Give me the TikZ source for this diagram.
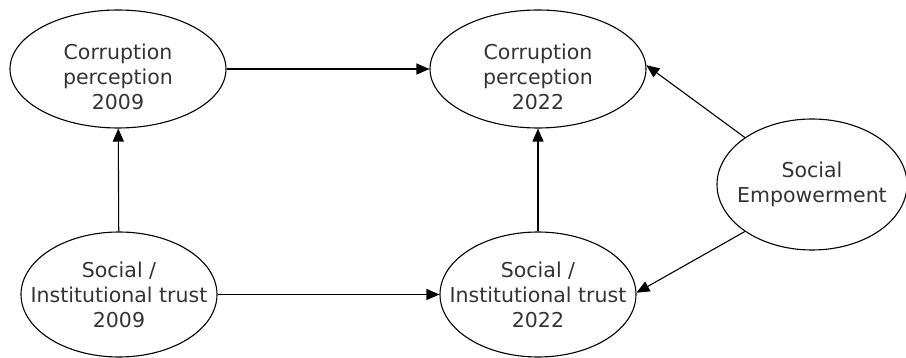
\documentclass[tikz,border=0pt]{standalone}
\usepackage{fontspec}
\setmainfont{DejaVu Sans}
\usetikzlibrary{shapes.geometric,arrows.meta}
\begin{document}
\begin{tikzpicture}[x=1pt,y=-1pt,
  elli/.style={draw=black,line width=1.1pt,ellipse,inner sep=0pt},
  txt/.style={align=center,text=black!80,font=\fontsize{20.5}{25}\selectfont,inner sep=0pt},
  conn/.style={draw=black,line width=1.1pt,-{Triangle[length=13pt,width=11pt]}}]
\useasboundingbox (0,0) rectangle (906,358);
\node[elli,minimum width=216pt,minimum height=118pt] (cp09) at (118,69) {};
\node[txt] (cp09t) at ([yshift=-8pt]cp09.center) {Corruption\\perception\\2009};
\node[elli,minimum width=216pt,minimum height=118pt] (cp22) at (538,69) {};
\node[txt] (cp22t) at ([yshift=-8pt]cp22.center) {Corruption\\perception\\2022};
\node[elli,minimum width=196pt,minimum height=125pt] (sit09) at (119,294.5) {};
\node[txt] (sit09t) at (sit09.center) {Social /\\Institutional trust\\2009};
\node[elli,minimum width=196pt,minimum height=125pt] (sit22) at (538,294.5) {};
\node[txt] (sit22t) at (sit22.center) {Social /\\Institutional trust\\2022};
\node[elli,minimum width=190pt,minimum height=131pt] (se) at (812,184.5) {};
\node[txt] (set) at (se.center) {Social\\Empowerment};
\draw[conn] (cp09) -- (cp22);
\draw[conn] (sit09) -- (sit22);
\draw[conn] (sit09) -- (cp09);
\draw[conn] (sit22) -- (cp22);
\draw[conn] (se.145) -- (cp22.2);
\draw[conn] (se.215) -- (sit22.1);
\end{tikzpicture}
\end{document}
